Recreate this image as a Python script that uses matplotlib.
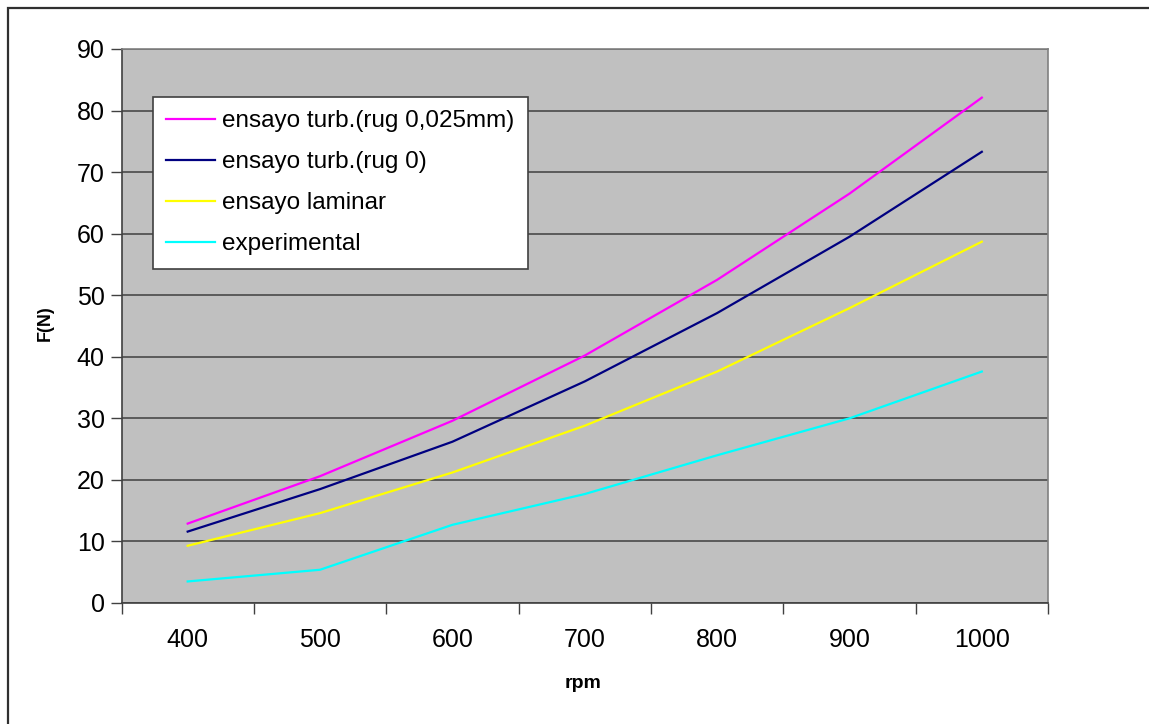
import matplotlib
matplotlib.use("Agg")
import matplotlib.pyplot as plt
from matplotlib.patches import Rectangle
import numpy as np

categories = ["400", "500", "600", "700", "800", "900", "1000"]
turb_rug025 = [12.9, 20.6, 29.6, 40.2, 52.5, 66.5, 82.1]
turb_rug0 = [11.6, 18.5, 26.2, 36.0, 47.1, 59.5, 73.3]
laminar = [9.3, 14.6, 21.2, 28.8, 37.6, 47.9, 58.7]
experimental = [3.5, 5.4, 12.7, 17.7, 24.0, 30.0, 37.6]
series_labels = ["ensayo turb.(rug 0,025mm)", "ensayo turb.(rug 0)",
                 "ensayo laminar", "experimental"]
yticks = [0, 10, 20, 30, 40, 50, 60, 70, 80, 90]

plt.rcParams['font.family'] = ['Liberation Sans', 'DejaVu Sans']

W, H = 1149, 724
fig = plt.figure(figsize=(W / 100, H / 100), dpi=100)
fig.patch.set_facecolor('white')

L, R, T, B = 121.5, 1048, 49, 603
ax = fig.add_axes([L / W, (H - B) / H, (R - L) / W, (B - T) / H])
ax.set_facecolor('#C0C0C0')

x = np.arange(len(categories))
colors = ['#FF00FF', '#000080', '#FFFF00', '#00FFFF']
for vals, c, lab in zip([turb_rug025, turb_rug0, laminar, experimental], colors, series_labels):
    ax.plot(x, vals, color=c, lw=1.6, label=lab, solid_joinstyle='round', zorder=3)

ax.set_xlim(-0.5, len(categories) - 0.5)
ax.set_ylim(0, 90)
ax.set_yticks(yticks)
ax.set_yticklabels([str(v) for v in yticks])
ax.yaxis.grid(True, color='#404040', lw=1.1, zorder=1)
ax.set_axisbelow(True)

ax.set_xticks(np.arange(-0.5, len(categories), 1.0))
ax.set_xticklabels([])
ax.set_xticks(x, minor=True)
ax.set_xticklabels(categories, minor=True)
ax.tick_params(axis='x', which='major', direction='out', length=8, width=1, color='#404040')
ax.tick_params(axis='x', which='minor', length=0, pad=18, labelsize=18)
ax.tick_params(axis='y', direction='out', length=8, width=1, color='#404040', pad=4, labelsize=18)

for s in ['top', 'right']:
    ax.spines[s].set_color('#808080')
    ax.spines[s].set_linewidth(1.2)
for s in ['left', 'bottom']:
    ax.spines[s].set_color('#404040')
    ax.spines[s].set_linewidth(1.2)

fig.text(583 / W, 1 - 684 / H, 'rpm', ha='center', va='center', fontsize=14, fontweight='bold')
fig.text(45 / W, 1 - 323 / H, 'F(N)', ha='center', va='center', fontsize=13,
         fontweight='bold', rotation=90)

leg = ax.legend(loc='upper left', bbox_to_anchor=(153 / W, 1 - 97 / H),
                bbox_transform=fig.transFigure, borderaxespad=0, fontsize=17.5,
                frameon=True, fancybox=False, shadow=False, framealpha=1,
                handlelength=2.0, handletextpad=0.3, labelspacing=0.78,
                borderpad=0.55)
leg.get_frame().set_edgecolor('#404040')
leg.get_frame().set_linewidth(1.2)
leg.get_frame().set_facecolor('white')

fig.patches.append(Rectangle((7.5 / W, -0.1), 2, (H - 7.5) / H + 0.1,
                             transform=fig.transFigure, fill=False,
                             edgecolor='#303030', lw=1.6))

fig.savefig('out.png', dpi=100, facecolor='white')
